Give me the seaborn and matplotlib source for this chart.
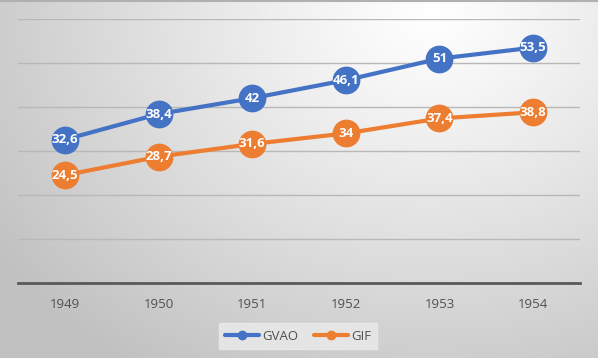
import numpy as np
import pandas as pd
import matplotlib
matplotlib.use("Agg")
import matplotlib.pyplot as plt
import seaborn as sns

years = ["1949", "1950", "1951", "1952", "1953", "1954"]
gvao = [32.6, 38.4, 42, 46.1, 51, 53.5]
gif = [24.5, 28.7, 31.6, 34, 37.4, 38.8]
series_names = ["GVAO", "GIF"]
colors = ["#4472C4", "#ED7D31"]

df = pd.DataFrame({
    "year": years * 2,
    "value": gvao + gif,
    "series": [series_names[0]] * len(years) + [series_names[1]] * len(years),
})

sns.set_theme(style="white")
plt.rcParams['font.family'] = ['Open Sans', 'DejaVu Sans']

W, H = 598, 358
fig = plt.figure(figsize=(W / 100, H / 100), dpi=100)

# background gradient
bg = fig.add_axes([0, 0, 1, 1], zorder=-10)
yy, xx = np.mgrid[0:H, 0:W]
d = np.sqrt(((xx - 430) / 520.0) ** 2 + ((yy - 15) / 420.0) ** 2)
v = 1.0 - 0.24 * np.clip(d, 0, 1) ** 1.1
img = np.dstack([v, v, v])
bg.imshow(img, extent=[0, 1, 0, 1], aspect="auto", origin="upper")
bg.set_axis_off()
bg.plot([0, 1], [0.997, 0.997], color="#b0b0b0", lw=1.5, transform=bg.transAxes)

ax = fig.add_axes([18 / W, 1 - 283 / H, (580 - 18) / W, (283 - 19) / H])
ax.patch.set_alpha(0)

sns.lineplot(data=df, x="year", y="value", hue="series", palette=colors,
             marker="o", markersize=20, markeredgewidth=0, linewidth=3,
             sort=False, ax=ax, legend=False)

ax.set_ylim(0, 60)
ax.set_xlim(-0.5, len(years) - 0.5)
ax.set_yticks(np.arange(0, 61, 10))
ax.set_yticklabels([])
ax.grid(axis="y", color="#b8b8b8", linewidth=1)
ax.set_axisbelow(True)
for s in ["top", "right", "left"]:
    ax.spines[s].set_visible(False)
ax.spines["bottom"].set_color("#595959")
ax.spines["bottom"].set_linewidth(2)
ax.set_xlabel("")
ax.set_ylabel("")
ax.tick_params(axis="x", length=0, pad=11, labelsize=9.5, labelcolor="#505050")
ax.tick_params(axis="y", length=0)

def fmt(v):
    s = ("%g" % v).replace(".", ",")
    return s

for vals in (gvao, gif):
    for i, val in enumerate(vals):
        ax.text(i, val, fmt(val), ha="center", va="center", color="white",
                fontsize=9.5, fontweight="bold", zorder=10)

# legend
from matplotlib.lines import Line2D
handles = [Line2D([0], [0], color=c, lw=3, marker="o", markersize=6) for c in colors]
leg = fig.legend(handles, series_names, loc="center", bbox_to_anchor=(298 / W, 1 - 336 / H),
                 ncol=2, frameon=True, fontsize=9.5, handlelength=2.6, handletextpad=0.2,
                 columnspacing=1.2, borderpad=0.5)
leg.get_frame().set_facecolor("#ebebeb")
leg.get_frame().set_edgecolor("#ebebeb")
leg.get_frame().set_boxstyle("square", pad=0)
for t in leg.get_texts():
    t.set_color("#505050")

fig.savefig("out.png", dpi=100)
